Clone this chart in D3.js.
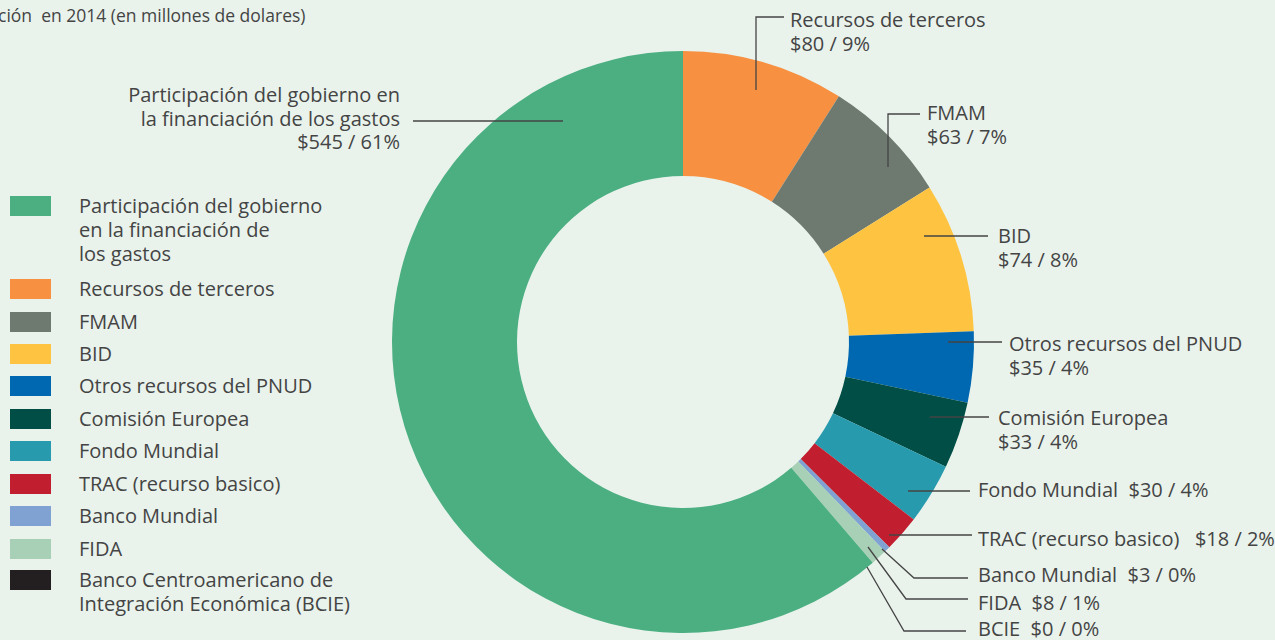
<!DOCTYPE html>
<html><head><meta charset="utf-8">
<script src="https://cdn.jsdelivr.net/npm/d3@7"></script>
<style>
html,body{margin:0;padding:0;background:#e9f3ec;overflow:hidden;}
svg{display:block;}
text{font-family:"Open Sans",sans-serif;fill:#444;white-space:pre;}
</style></head>
<body>
<svg id="chart" width="1275" height="640"></svg>
<script>
// ---- data ----
const categories = [
  "Participación del gobierno en la financiación de los gastos",
  "Recursos de terceros",
  "FMAM",
  "BID",
  "Otros recursos del PNUD",
  "Comisión Europea",
  "Fondo Mundial",
  "TRAC (recurso basico)",
  "Banco Mundial",
  "FIDA",
  "Banco Centroamericano de Integración Económica (BCIE)"
];
const values = [545, 80, 63, 74, 35, 33, 30, 18, 3, 8, 0];
const percents = ["61%", "9%", "7%", "8%", "4%", "4%", "4%", "2%", "0%", "1%", "0%"];
const colors = ["#4caf82", "#f79040", "#6e796f", "#fec441", "#0068b1", "#004e46", "#289aae", "#c11f2f", "#7fa2d3", "#a8d0b6", "#231f20"];
const legendLines = [
  ["Participación del gobierno", "en la financiación de", "los gastos"],
  ["Recursos de terceros"], ["FMAM"], ["BID"], ["Otros recursos del PNUD"],
  ["Comisión Europea"], ["Fondo Mundial"], ["TRAC (recurso basico)"],
  ["Banco Mundial"], ["FIDA"], ["Banco Centroamericano de", "Integración Económica (BCIE)"]
];
// order of slices clockwise from 12 o'clock
const pieOrder = [1, 2, 3, 4, 5, 6, 7, 8, 9, 10, 0];
const title = "ción  en 2014 (en millones de dolares)";

// ---- label layout (annotation positions) ----
const labels = [
  {i:0, lines:["Participación del gobierno en","la financiación de los gastos","$545 / 61%"], x:400, y:102, anchor:"end", path:[[413,121],[563,121]]},
  {i:1, lines:["Recursos de terceros","$80 / 9%"], x:790, y:27, path:[[756,90],[756,17],[784,17]]},
  {i:2, lines:["FMAM","$63 / 7%"], x:927, y:120, path:[[888,167],[888,114],[920,114]]},
  {i:3, lines:["BID","$74 / 8%"], x:998, y:243, path:[[924,236],[988,236]]},
  {i:4, lines:["Otros recursos del PNUD","$35 / 4%"], x:1009, y:351, path:[[948,342],[1002,342]]},
  {i:5, lines:["Comisión Europea","$33 / 4%"], x:998, y:425, path:[[930,417],[989,417]]},
  {i:6, lines:["Fondo Mundial  $30 / 4%"], x:978, y:497, path:[[908,491],[970,491]]},
  {i:7, lines:["TRAC (recurso basico)   $18 / 2%"], x:978, y:546, path:[[889,535],[972,535]]},
  {i:8, lines:["Banco Mundial  $3 / 0%"], x:978, y:582, path:[[882,549],[914,578],[968,578]]},
  {i:9, lines:["FIDA  $8 / 1%"], x:978, y:610, path:[[868,547],[906,599],[968,599]]},
  {i:10, lines:["BCIE  $0 / 0%"], x:978, y:636, path:[[867,567],[904,631],[966,631]]}
];

const svg = d3.select("#chart");
const cx = 683, cy = 342, rOuter = 291, rInner = 166;

svg.append("text").attr("x", -2).attr("y", 22).attr("font-size", 17.5).text(title);

const pie = d3.pie().sort(null).value(i => values[i]).startAngle(0).endAngle(2*Math.PI);
const arc = d3.arc().innerRadius(rInner).outerRadius(rOuter);
const g = svg.append("g").attr("transform", `translate(${cx},${cy})`);
g.selectAll("path").data(pie(pieOrder)).join("path")
  .attr("d", arc)
  .attr("fill", d => colors[d.data]);

// leader lines & labels
const line = d3.line();
svg.append("g").selectAll("path").data(labels).join("path")
  .attr("d", d => line(d.path))
  .attr("fill", "none").attr("stroke", "#454545").attr("stroke-width", 1.3);

const lg = svg.append("g").selectAll("text").data(labels).join("text")
  .attr("x", d => d.x).attr("y", d => d.y)
  .attr("text-anchor", d => d.anchor || "start")
  .attr("font-size", 20);
lg.selectAll("tspan").data(d => d.lines.map(t => ({t, x:d.x}))).join("tspan")
  .attr("x", d => d.x).attr("dy", (d, j) => j === 0 ? 0 : 23.5).text(d => d.t);

// legend
const swY = [206, 289, 322, 354, 386, 419, 451, 484, 516, 549, 580];
const leg = svg.append("g").selectAll("g").data(categories.map((c, i) => i)).join("g");
leg.append("rect").attr("x", 10).attr("width", 41).attr("height", 20)
  .attr("y", i => swY[i] - 10).attr("fill", i => colors[i]);
leg.append("text").attr("font-size", 20)
  .attr("y", i => swY[i] + 7)
  .selectAll("tspan").data(i => legendLines[i]).join("tspan")
  .attr("x", 79).attr("dy", (d, j) => j === 0 ? 0 : 24).text(d => d);
</script>
</body></html>
